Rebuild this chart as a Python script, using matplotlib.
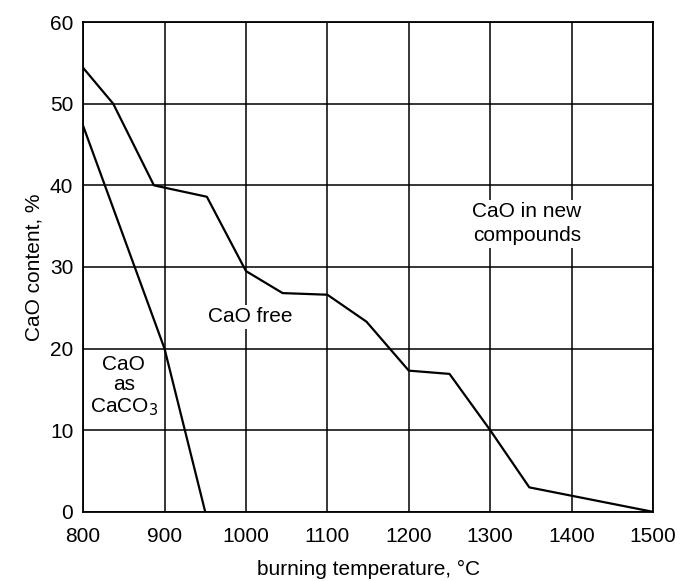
import matplotlib.pyplot as plt

plt.rcParams['font.family'] = ['Liberation Sans', 'DejaVu Sans']

# CaO linked to new compounds (upper curve)
temp_upper = [800, 837, 887, 952, 1000, 1045, 1100, 1148, 1200, 1250, 1300, 1348, 1500]
cao_upper = [54.4, 50.0, 40.0, 38.6, 29.5, 26.8, 26.6, 23.3, 17.3, 16.9, 10.0, 3.0, 0.0]

# CaO as CaCO3 (lower curve)
temp_lower = [800, 900, 950]
cao_lower = [47.3, 20.0, 0.0]

xticks = [800, 900, 1000, 1100, 1200, 1300, 1400, 1500]
yticks = [0, 10, 20, 30, 40, 50, 60]

fig = plt.figure(figsize=(6.81, 5.81), dpi=100)
ax = fig.add_axes([0.122, 0.119, 0.837, 0.843])

ax.plot(temp_upper, cao_upper, color='black', linewidth=1.6, zorder=3)
ax.plot(temp_lower, cao_lower, color='black', linewidth=1.6, zorder=3)

ax.set_xlim(800, 1500)
ax.set_ylim(0, 60)
ax.set_xticks(xticks)
ax.set_yticks(yticks)
ax.grid(True, color='black', linewidth=1.1)
ax.set_axisbelow(True)
ax.tick_params(length=0, labelsize=15)
ax.tick_params(axis='x', pad=11)
ax.tick_params(axis='y', pad=7)
for s in ax.spines.values():
    s.set_linewidth(1.3)

ax.set_xlabel('burning temperature, °C', fontsize=15, labelpad=10)
ax.set_ylabel('CaO content, %', fontsize=15, labelpad=5)

box = dict(facecolor='white', edgecolor='none', pad=2)
ax.text(1345, 35.3, 'CaO in new\ncompounds', fontsize=15, ha='center', va='center',
        bbox=box, zorder=2, linespacing=1.3)
ax.text(1005, 23.9, 'CaO free', fontsize=15, ha='center', va='center', bbox=box, zorder=2)
ax.text(850, 15.4, 'CaO\nas\nCaCO$_3$', fontsize=15, ha='center', va='center',
        bbox=box, zorder=2, linespacing=1.1)

fig.savefig('out.png', dpi=100)
